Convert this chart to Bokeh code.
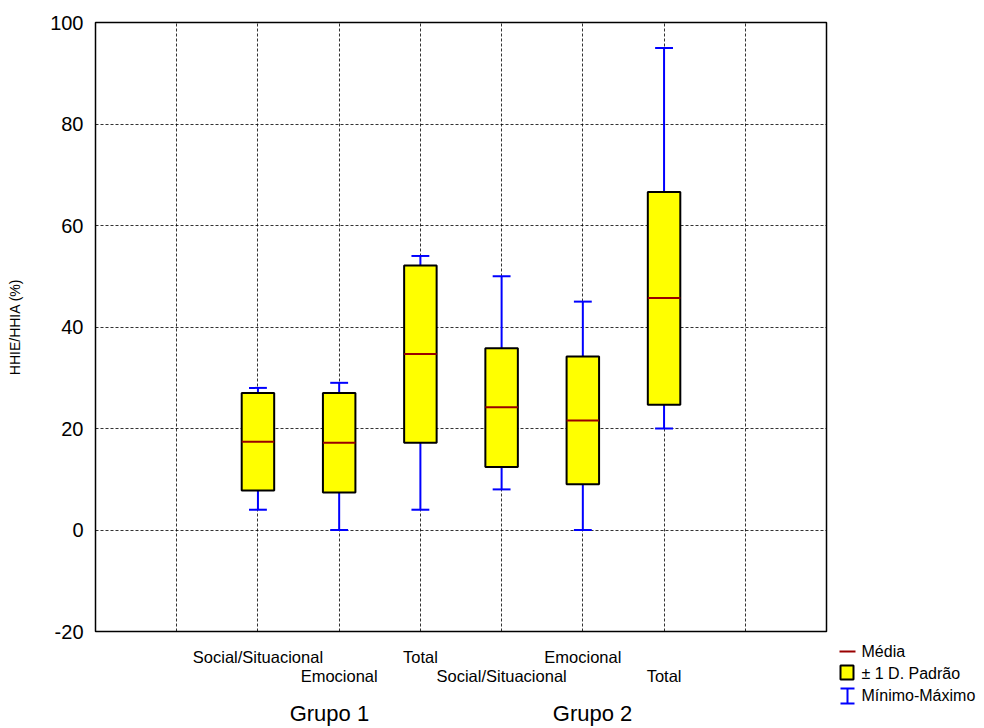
from bokeh.plotting import figure
from bokeh.models import Range1d, FixedTicker, LinearAxis
from bokeh.layouts import row
from bokeh.embed import file_html
from bokeh.resources import INLINE
from bokeh.core.properties import value

# ---- data ----
categories = ["Social/Situacional", "Emocional", "Total",
              "Social/Situacional", "Emocional", "Total"]
groups = ["Grupo 1", "Grupo 2"]
group_label_pos = [2.88, 6.12]
means = [17.4, 17.2, 34.7, 24.2, 21.6, 45.7]
sd_low = [7.8, 7.4, 17.2, 12.4, 9.0, 24.7]
sd_high = [27.0, 27.0, 52.1, 35.8, 34.2, 66.6]
mins = [4, 0, 4, 8, 0, 20]
maxs = [28, 29, 54, 50, 45, 95]
y_ticks = [-20, 0, 20, 40, 60, 80, 100]
legend_labels = ["Média", "± 1 D. Padrão", "Mínimo-Máximo"]

FONT = "Liberation Sans"
xs = [i + 2 for i in range(len(categories))]
BOX_W = 0.4
CAP_W = 0.22

p = figure(width=831, height=728, x_range=Range1d(0, 9), y_range=Range1d(-20, 100),
           output_backend="svg", toolbar_location=None,
           min_border_left=95, min_border_right=5, min_border_top=22, min_border_bottom=97)
p.outline_line_color = "black"
p.outline_line_width = 1.5
p.background_fill_color = "white"
p.border_fill_color = "white"

# grids
p.xgrid.ticker = FixedTicker(ticks=[1, 2, 3, 4, 5, 6, 7, 8])
p.ygrid.ticker = FixedTicker(ticks=y_ticks)
for g in (p.xgrid, p.ygrid):
    g.grid_line_color = "black"
    g.grid_line_dash = "3 2"
    g.grid_line_width = 1
    g.grid_line_alpha = 0.8

def style_axis(ax, size, standoff):
    ax.axis_line_color = None
    ax.major_tick_line_color = None
    ax.minor_tick_line_color = None
    ax.major_tick_out = 0
    ax.major_tick_in = 0
    ax.minor_tick_out = 0
    ax.minor_tick_in = 0
    ax.major_label_text_font = FONT
    ax.major_label_text_font_size = size
    ax.major_label_text_color = "black"
    ax.major_label_standoff = standoff

# y axis
ya = p.yaxis[0]
ya.ticker = FixedTicker(ticks=y_ticks)
ya.major_label_overrides = {t: str(t) for t in y_ticks}
style_axis(ya, "20px", 12)
ya.axis_label = "HHIE/HHIA (%)"
ya.axis_label_text_font = FONT
ya.axis_label_text_font_size = "14px"
ya.axis_label_text_font_style = "normal"
ya.axis_label_text_color = "black"
ya.axis_label_standoff = 24

# x axes: two staggered rows of category labels + group row
row1 = [i for i in range(len(categories)) if i % 2 == 0]
row2 = [i for i in range(len(categories)) if i % 2 == 1]
ax1 = p.xaxis[0]
ax1.ticker = FixedTicker(ticks=[xs[i] for i in row1])
ax1.major_label_overrides = {xs[i]: categories[i] for i in row1}
style_axis(ax1, "16.5px", 16)

ax2 = LinearAxis(ticker=FixedTicker(ticks=[xs[i] for i in row2]),
                 major_label_overrides={xs[i]: categories[i] for i in row2})
style_axis(ax2, "16.5px", -2)
p.add_layout(ax2, "below")

ax3 = LinearAxis(ticker=FixedTicker(ticks=group_label_pos),
                 major_label_overrides={pos: g for pos, g in zip(group_label_pos, groups)})
style_axis(ax3, "22px", 13)
p.add_layout(ax3, "below")

# whiskers
p.segment(x0=xs, y0=mins, x1=xs, y1=maxs, line_color="#0000FF", line_width=2)
p.segment(x0=[x - CAP_W / 2 for x in xs], y0=mins, x1=[x + CAP_W / 2 for x in xs], y1=mins,
          line_color="#0000FF", line_width=2)
p.segment(x0=[x - CAP_W / 2 for x in xs], y0=maxs, x1=[x + CAP_W / 2 for x in xs], y1=maxs,
          line_color="#0000FF", line_width=2)
# boxes
p.quad(left=[x - BOX_W / 2 for x in xs], right=[x + BOX_W / 2 for x in xs],
       bottom=sd_low, top=sd_high, fill_color="#FFFF00", line_color="black", line_width=2)
# means
p.segment(x0=[x - BOX_W / 2 for x in xs], y0=means, x1=[x + BOX_W / 2 for x in xs], y1=means,
          line_color="#990000", line_width=2)

# ---- legend panel (pixel space of its own canvas) ----
lg = figure(width=153, height=728, x_range=Range1d(0, 153), y_range=Range1d(728, 0),
            output_backend="svg", toolbar_location=None, min_border=0,
            x_axis_location=None, y_axis_location=None)
lg.outline_line_color = None
lg.grid.visible = False
lg.background_fill_color = "white"
lg.border_fill_color = "white"

if "frame_align" in p.properties():
    p.frame_align = False
    lg.frame_align = False

lg.segment(x0=[8], y0=[651], x1=[24], y1=[651], line_color="#990000", line_width=2)
lg.quad(left=[9], right=[22], top=[665], bottom=[679], fill_color="#FFFF00",
        line_color="black", line_width=2)
lg.segment(x0=[16, 9, 9], y0=[688, 688, 703], x1=[16, 23, 23], y1=[703, 688, 703],
           line_color="#0000FF", line_width=2)
lg.text(x=[30, 30, 30], y=[651, 673, 695], text=legend_labels,
        text_font=value(FONT), text_font_size="16px", text_color="black",
        text_baseline="middle", text_align="left")

layout = row(p, lg)
open("out.html", "w").write(file_html(layout, INLINE))
